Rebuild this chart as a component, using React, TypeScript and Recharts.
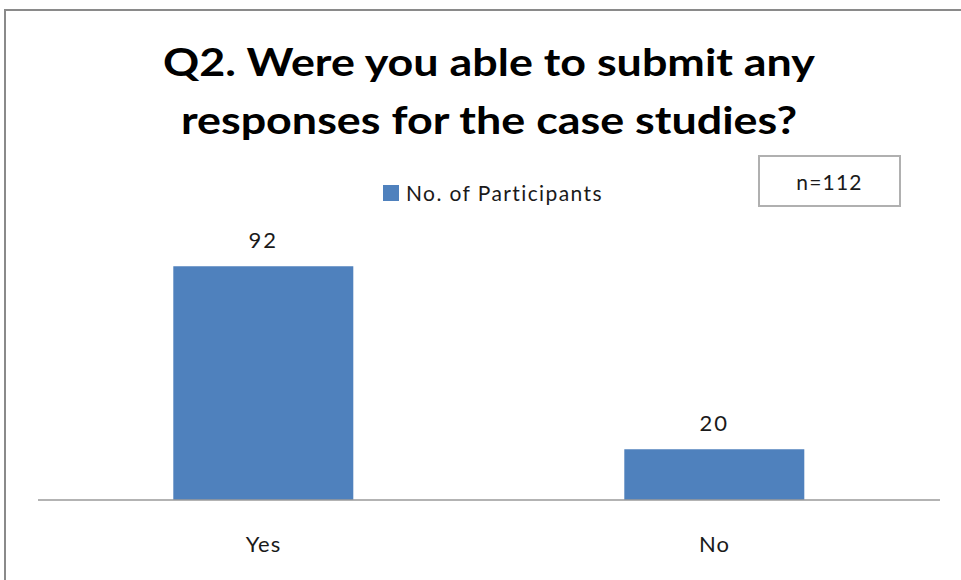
import React from "react";
import { BarChart, Bar, XAxis, YAxis, Legend, LabelList } from "recharts";

const categories = ["Yes", "No"];
const participants = [92, 20];
const seriesName = "No. of Participants";
const titleLines = ["Q2. Were you able to submit any", "responses for the case studies?"];
const sampleNote = "n=112";

const data = categories.map((c, i) => ({ category: c, value: participants[i] }));

const FONT = "Lato, 'Open Sans', sans-serif";
const BLUE = "#4F81BD";
const TEXT = "#1a1a1a";

const LegendContent = () => (
  <div style={{ display: "flex", alignItems: "center", fontFamily: FONT, fontSize: 21, letterSpacing: 1.4, color: TEXT, whiteSpace: "nowrap" }}>
    <span style={{ display: "inline-block", width: 16, height: 16, background: BLUE, marginRight: 7 }} />
    <span>{seriesName}</span>
  </div>
);

const Tick = (props: any) => {
  const { x, y, payload } = props;
  return (
    <text x={x} y={y} dy={44} textAnchor="middle" fontFamily={FONT} fontSize={22} letterSpacing={1} fill={TEXT}>
      {payload.value}
    </text>
  );
};

export default function App() {
  return (
    <div style={{ position: "absolute", left: 0, top: 0, width: 961, height: 580, overflow: "hidden", background: "#fff" }}>
      <div style={{ position: "absolute", left: 4, top: 9, width: 1000, height: 620, border: "2px solid #8a8a8a", boxSizing: "border-box" }} />
      <div style={{ position: "absolute", left: 0, top: 32, width: 978, textAlign: "center", fontFamily: FONT, fontWeight: 700, fontSize: 38, lineHeight: "58px", color: "#000", transform: "scaleX(1.18)", transformOrigin: "489px 0" }}>
        {titleLines.map((l) => (
          <div key={l}>{l}</div>
        ))}
      </div>
      <div style={{ position: "absolute", left: 758, top: 155, width: 143, height: 52, border: "2px solid #b0b0b0", boxSizing: "border-box", display: "flex", alignItems: "center", justifyContent: "center", fontFamily: FONT, fontSize: 21, letterSpacing: 1.2, color: TEXT }}>
        {sampleNote}
      </div>
      <BarChart width={961} height={580} data={data} margin={{ top: 246, right: 21, left: 38, bottom: 30 }} barCategoryGap="30%">
        <XAxis dataKey="category" height={50} tickLine={false} axisLine={{ stroke: "#9a9a9a", strokeWidth: 1.5 }} tick={<Tick />} interval={0} />
        <YAxis hide domain={[0, 100]} />
        <Legend layout="horizontal" verticalAlign="middle" align="center" wrapperStyle={{ top: 180, left: 383, width: 280 }} content={<LegendContent />} />
        <Bar dataKey="value" name={seriesName} fill={BLUE} isAnimationActive={false}>
          <LabelList dataKey="value" position="top" offset={18} fontFamily={FONT} fontSize={22} letterSpacing={2} fill={TEXT} />
        </Bar>
      </BarChart>
    </div>
  );
}
